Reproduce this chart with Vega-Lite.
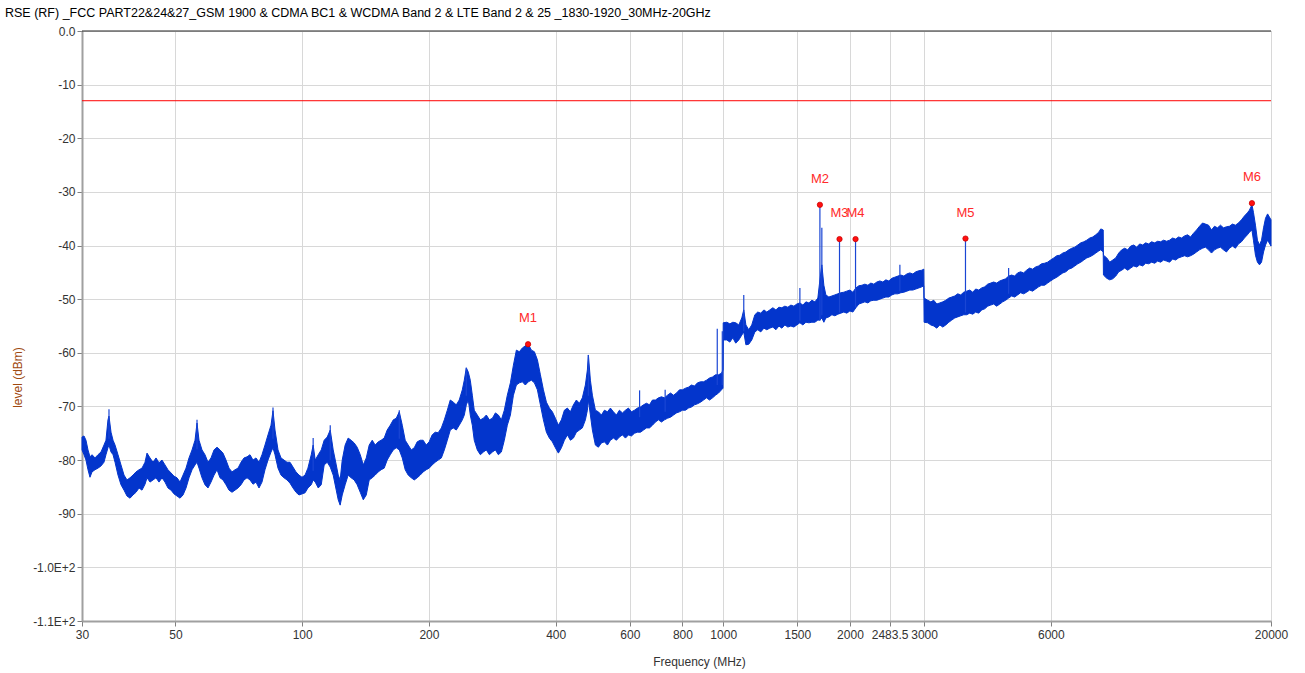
{
"$schema":"https://vega.github.io/schema/vega-lite/v6.json",
"width":1189,"height":590,
"autosize":{"type":"none"},
"padding":{"left":82,"top":31,"right":34,"bottom":52},
"background":"white",
"title":{"text":"RSE (RF)  _FCC PART22&24&27_GSM 1900 & CDMA BC1 & WCDMA Band 2 & LTE Band 2 & 25 _1830-1920_30MHz-20GHz","anchor":"start","frame":"group","dx":-77,"offset":6,"fontSize":12.5,"fontWeight":"normal","font":"Liberation Sans","color":"#000000"},
"config":{"font":"Liberation Sans","view":{"stroke":"#A0A0A0","strokeWidth":1},
"axis":{"labelFont":"Liberation Sans","labelFontSize":12,"labelColor":"#333333","domainColor":"#A0A0A0","domainWidth":2,"tickColor":"#808080","tickSize":5,"gridColor":"#D8D8D8","gridWidth":1,"titleFont":"Liberation Sans","titleFontSize":12,"titleFontWeight":"normal"}},
"datasets":{
"band":[
{"f":30,"hi":-75.7,"lo":-78.1},{"f":30.33,"hi":-75.5,"lo":-79.0},{"f":30.66,"hi":-76.3,"lo":-80.0},{"f":31.0,"hi":-78.1,"lo":-81.8},{"f":31.34,"hi":-79.4,"lo":-83.2},{"f":31.69,"hi":-79.0,"lo":-82.2},{"f":32.21,"hi":-79.6,"lo":-81.8},{"f":32.74,"hi":-79.0,"lo":-81.5},{"f":33.28,"hi":-78.5,"lo":-81.1},{"f":33.83,"hi":-77.2,"lo":-80.4},{"f":34.2,"hi":-76.3,"lo":-79.0},{"f":34.58,"hi":-72.5,"lo":-77.7},{"f":34.77,"hi":-71.8,"lo":-77.2},{"f":35.16,"hi":-74.8,"lo":-78.5},{"f":35.55,"hi":-76.3,"lo":-79.0},{"f":35.94,"hi":-77.2,"lo":-80.4},{"f":36.53,"hi":-79.0,"lo":-82.8},{"f":37.13,"hi":-80.9,"lo":-84.6},{"f":37.75,"hi":-82.8,"lo":-85.6},{"f":38.37,"hi":-83.7,"lo":-86.7},{"f":39.01,"hi":-83.3,"lo":-87.1},{"f":39.65,"hi":-82.8,"lo":-86.5},{"f":40.31,"hi":-82.2,"lo":-86.0},{"f":40.98,"hi":-81.8,"lo":-85.2},{"f":41.65,"hi":-81.5,"lo":-85.6},{"f":42.34,"hi":-80.4,"lo":-84.5},{"f":42.81,"hi":-78.7,"lo":-83.3},{"f":43.52,"hi":-79.6,"lo":-84.1},{"f":44.24,"hi":-80.4,"lo":-83.7},{"f":44.97,"hi":-79.6,"lo":-83.3},{"f":45.71,"hi":-80.5,"lo":-84.1},{"f":46.47,"hi":-80.0,"lo":-83.3},{"f":47.23,"hi":-80.9,"lo":-84.1},{"f":48.01,"hi":-81.8,"lo":-85.2},{"f":48.82,"hi":-82.4,"lo":-85.6},{"f":49.62,"hi":-83.0,"lo":-86.3},{"f":50.44,"hi":-83.3,"lo":-86.7},{"f":51.28,"hi":-84.1,"lo":-87.1},{"f":52.13,"hi":-82.8,"lo":-86.5},{"f":52.99,"hi":-81.5,"lo":-85.2},{"f":53.86,"hi":-79.6,"lo":-83.3},{"f":54.76,"hi":-78.1,"lo":-81.8},{"f":55.66,"hi":-76.3,"lo":-80.9},{"f":56.27,"hi":-73.1,"lo":-80.4},{"f":56.89,"hi":-76.3,"lo":-81.5},{"f":57.83,"hi":-78.1,"lo":-83.3},{"f":58.78,"hi":-79.0,"lo":-84.6},{"f":59.76,"hi":-80.4,"lo":-85.2},{"f":60.75,"hi":-79.6,"lo":-84.1},{"f":61.76,"hi":-78.1,"lo":-82.8},{"f":62.78,"hi":-77.6,"lo":-81.8},{"f":63.81,"hi":-78.1,"lo":-83.3},{"f":64.86,"hi":-78.7,"lo":-83.7},{"f":65.94,"hi":-80.0,"lo":-84.6},{"f":67.03,"hi":-81.5,"lo":-85.6},{"f":68.14,"hi":-82.2,"lo":-86.0},{"f":69.27,"hi":-81.8,"lo":-85.6},{"f":70.41,"hi":-81.5,"lo":-85.2},{"f":71.58,"hi":-80.4,"lo":-84.6},{"f":72.76,"hi":-79.6,"lo":-83.7},{"f":73.97,"hi":-79.4,"lo":-83.3},{"f":75.19,"hi":-79.0,"lo":-83.7},{"f":76.43,"hi":-80.0,"lo":-84.5},{"f":77.69,"hi":-79.6,"lo":-84.1},{"f":78.98,"hi":-80.4,"lo":-85.2},{"f":80.28,"hi":-79.0,"lo":-84.1},{"f":81.61,"hi":-77.2,"lo":-81.8},{"f":82.96,"hi":-75.3,"lo":-80.0},{"f":84.34,"hi":-73.5,"lo":-78.5},{"f":85.26,"hi":-70.8,"lo":-77.7},{"f":86.2,"hi":-74.4,"lo":-79.0},{"f":87.63,"hi":-78.1,"lo":-81.5},{"f":89.08,"hi":-79.6,"lo":-82.8},{"f":90.55,"hi":-80.0,"lo":-83.3},{"f":92.04,"hi":-80.4,"lo":-83.7},{"f":93.57,"hi":-80.4,"lo":-84.3},{"f":95.12,"hi":-81.3,"lo":-85.2},{"f":96.69,"hi":-82.2,"lo":-86.0},{"f":98.29,"hi":-82.8,"lo":-86.5},{"f":99.92,"hi":-83.2,"lo":-86.3},{"f":101.6,"hi":-82.8,"lo":-86.1},{"f":103.2,"hi":-81.5,"lo":-85.2},{"f":105.1,"hi":-79.0,"lo":-84.6},{"f":106.2,"hi":-77.2,"lo":-83.7},{"f":107.4,"hi":-80.0,"lo":-84.1},{"f":109.2,"hi":-79.0,"lo":-85.2},{"f":111.0,"hi":-78.1,"lo":-84.6},{"f":112.8,"hi":-76.3,"lo":-80.9},{"f":114.7,"hi":-75.7,"lo":-80.4},{"f":116.6,"hi":-74.4,"lo":-81.3},{"f":118.5,"hi":-78.1,"lo":-82.8},{"f":120.5,"hi":-80.9,"lo":-85.6},{"f":121.8,"hi":-82.8,"lo":-87.4},{"f":123.1,"hi":-83.7,"lo":-88.4},{"f":124.5,"hi":-80.0,"lo":-86.5},{"f":126.5,"hi":-77.2,"lo":-84.6},{"f":128.6,"hi":-75.9,"lo":-82.8},{"f":130.7,"hi":-76.3,"lo":-83.3},{"f":132.9,"hi":-76.8,"lo":-83.7},{"f":135.1,"hi":-77.6,"lo":-84.6},{"f":137.4,"hi":-79.0,"lo":-86.0},{"f":139.7,"hi":-80.9,"lo":-87.4},{"f":142.0,"hi":-79.6,"lo":-86.5},{"f":144.3,"hi":-77.2,"lo":-83.7},{"f":146.7,"hi":-76.3,"lo":-83.3},{"f":149.1,"hi":-77.2,"lo":-82.8},{"f":151.6,"hi":-76.6,"lo":-82.2},{"f":154.0,"hi":-76.3,"lo":-81.8},{"f":156.6,"hi":-75.9,"lo":-81.5},{"f":159.2,"hi":-74.4,"lo":-80.0},{"f":161.9,"hi":-73.5,"lo":-79.0},{"f":164.6,"hi":-72.5,"lo":-78.1},{"f":167.3,"hi":-72.2,"lo":-77.7},{"f":170.1,"hi":-71.0,"lo":-78.1},{"f":172.9,"hi":-73.5,"lo":-79.6},{"f":175.7,"hi":-76.3,"lo":-81.8},{"f":178.6,"hi":-77.2,"lo":-82.8},{"f":181.6,"hi":-78.1,"lo":-83.3},{"f":184.6,"hi":-77.7,"lo":-83.7},{"f":187.6,"hi":-76.6,"lo":-83.3},{"f":190.7,"hi":-76.3,"lo":-82.8},{"f":193.8,"hi":-76.3,"lo":-82.2},{"f":197.1,"hi":-77.2,"lo":-81.8},{"f":200.3,"hi":-76.6,"lo":-81.5},{"f":203.6,"hi":-75.3,"lo":-80.9},{"f":207.0,"hi":-74.8,"lo":-80.4},{"f":210.4,"hi":-74.9,"lo":-80.0},{"f":214.1,"hi":-74.0,"lo":-79.6},{"f":217.6,"hi":-72.5,"lo":-78.1},{"f":221.2,"hi":-70.7,"lo":-76.3},{"f":224.8,"hi":-68.8,"lo":-74.4},{"f":228.5,"hi":-69.2,"lo":-74.0},{"f":232.3,"hi":-69.7,"lo":-74.4},{"f":236.1,"hi":-68.8,"lo":-73.5},{"f":240.1,"hi":-66.9,"lo":-72.5},{"f":242.7,"hi":-65.1,"lo":-71.6},{"f":245.4,"hi":-62.8,"lo":-69.7},{"f":248.1,"hi":-63.6,"lo":-68.8},{"f":250.8,"hi":-65.1,"lo":-71.6},{"f":253.6,"hi":-67.9,"lo":-73.5},{"f":256.3,"hi":-70.7,"lo":-76.3},{"f":260.6,"hi":-71.6,"lo":-78.1},{"f":265.0,"hi":-72.5,"lo":-79.0},{"f":269.4,"hi":-72.2,"lo":-78.5},{"f":273.8,"hi":-71.6,"lo":-78.1},{"f":278.4,"hi":-72.5,"lo":-79.0},{"f":283.0,"hi":-72.2,"lo":-78.5},{"f":287.7,"hi":-71.2,"lo":-78.1},{"f":292.4,"hi":-71.6,"lo":-79.0},{"f":297.2,"hi":-72.5,"lo":-78.5},{"f":302.1,"hi":-70.7,"lo":-76.3},{"f":307.1,"hi":-67.9,"lo":-73.5},{"f":312.3,"hi":-65.6,"lo":-71.6},{"f":317.5,"hi":-62.3,"lo":-67.9},{"f":322.7,"hi":-59.5,"lo":-66.0},{"f":328.0,"hi":-59.8,"lo":-65.6},{"f":333.4,"hi":-59.1,"lo":-65.4},{"f":338.9,"hi":-58.7,"lo":-66.0},{"f":344.5,"hi":-58.4,"lo":-65.4},{"f":350.3,"hi":-59.5,"lo":-65.1},{"f":356.1,"hi":-59.8,"lo":-65.6},{"f":362.0,"hi":-61.3,"lo":-66.9},{"f":368.0,"hi":-64.1,"lo":-69.7},{"f":374.1,"hi":-66.9,"lo":-72.5},{"f":380.3,"hi":-69.2,"lo":-74.8},{"f":386.5,"hi":-70.3,"lo":-75.9},{"f":392.9,"hi":-71.0,"lo":-76.6},{"f":399.4,"hi":-72.2,"lo":-77.7},{"f":406.0,"hi":-73.5,"lo":-78.7},{"f":412.8,"hi":-72.5,"lo":-77.7},{"f":419.6,"hi":-70.7,"lo":-76.3},{"f":426.5,"hi":-70.3,"lo":-75.3},{"f":433.6,"hi":-71.0,"lo":-76.3},{"f":440.8,"hi":-69.7,"lo":-75.9},{"f":448.0,"hi":-68.8,"lo":-74.8},{"f":455.5,"hi":-69.4,"lo":-74.4},{"f":462.9,"hi":-68.4,"lo":-74.0},{"f":470.6,"hi":-66.0,"lo":-72.5},{"f":475.8,"hi":-63.2,"lo":-70.7},{"f":478.4,"hi":-60.4,"lo":-68.8},{"f":483.7,"hi":-65.1,"lo":-71.6},{"f":489.0,"hi":-67.9,"lo":-74.4},{"f":497.1,"hi":-70.7,"lo":-77.2},{"f":505.3,"hi":-71.0,"lo":-77.6},{"f":513.8,"hi":-71.6,"lo":-76.8},{"f":522.3,"hi":-70.7,"lo":-76.6},{"f":530.9,"hi":-71.0,"lo":-77.2},{"f":539.7,"hi":-70.3,"lo":-76.3},{"f":548.6,"hi":-71.0,"lo":-75.9},{"f":557.7,"hi":-71.6,"lo":-76.3},{"f":566.9,"hi":-70.7,"lo":-75.7},{"f":576.4,"hi":-71.2,"lo":-75.3},{"f":585.9,"hi":-70.7,"lo":-75.9},{"f":595.6,"hi":-70.3,"lo":-75.3},{"f":605.5,"hi":-71.0,"lo":-75.5},{"f":615.5,"hi":-70.7,"lo":-75.0},{"f":625.7,"hi":-70.3,"lo":-74.8},{"f":636.1,"hi":-70.1,"lo":-74.8},{"f":646.6,"hi":-69.7,"lo":-74.4},{"f":657.3,"hi":-69.4,"lo":-74.0},{"f":668.2,"hi":-69.7,"lo":-74.0},{"f":679.2,"hi":-68.8,"lo":-73.5},{"f":690.4,"hi":-68.8,"lo":-72.9},{"f":701.8,"hi":-68.4,"lo":-72.5},{"f":713.5,"hi":-68.2,"lo":-72.9},{"f":725.3,"hi":-68.4,"lo":-72.5},{"f":737.3,"hi":-67.9,"lo":-72.2},{"f":749.6,"hi":-67.5,"lo":-72.0},{"f":762.0,"hi":-67.9,"lo":-71.6},{"f":774.6,"hi":-67.5,"lo":-71.2},{"f":787.4,"hi":-66.9,"lo":-71.0},{"f":800.3,"hi":-66.9,"lo":-70.7},{"f":813.5,"hi":-66.6,"lo":-70.7},{"f":827.0,"hi":-66.4,"lo":-70.3},{"f":840.8,"hi":-66.0,"lo":-70.1},{"f":854.7,"hi":-66.2,"lo":-69.7},{"f":868.8,"hi":-65.6,"lo":-69.5},{"f":883.3,"hi":-65.4,"lo":-69.2},{"f":897.9,"hi":-65.4,"lo":-68.8},{"f":912.7,"hi":-65.1,"lo":-68.4},{"f":927.8,"hi":-64.7,"lo":-68.8},{"f":943.4,"hi":-64.5,"lo":-68.4},{"f":958.9,"hi":-64.1,"lo":-67.9},{"f":974.8,"hi":-64.1,"lo":-67.5},{"f":990.8,"hi":-63.8,"lo":-66.9},{"f":999,"hi":-63.2,"lo":-66.6},
{"f":1000,"hi":-54.4,"lo":-57.6},{"f":1020,"hi":-54.3,"lo":-57.6},{"f":1037,"hi":-54.6,"lo":-58.0},{"f":1054,"hi":-54.3,"lo":-57.2},{"f":1071,"hi":-54.4,"lo":-58.2},{"f":1089,"hi":-54.8,"lo":-57.6},{"f":1107,"hi":-53.5,"lo":-56.7},{"f":1119,"hi":-52.0,"lo":-56.1},{"f":1132,"hi":-54.8,"lo":-58.5},{"f":1150,"hi":-55.7,"lo":-58.4},{"f":1169,"hi":-54.8,"lo":-57.6},{"f":1189,"hi":-52.9,"lo":-56.1},{"f":1208,"hi":-52.4,"lo":-55.7},{"f":1228,"hi":-52.6,"lo":-56.1},{"f":1249,"hi":-52.0,"lo":-55.4},{"f":1269,"hi":-52.4,"lo":-55.7},{"f":1290,"hi":-52.0,"lo":-55.4},{"f":1312,"hi":-51.6,"lo":-55.2},{"f":1334,"hi":-52.0,"lo":-55.7},{"f":1356,"hi":-51.5,"lo":-55.0},{"f":1378,"hi":-51.6,"lo":-55.4},{"f":1401,"hi":-51.3,"lo":-54.8},{"f":1424,"hi":-51.5,"lo":-55.2},{"f":1448,"hi":-51.1,"lo":-55.0},{"f":1472,"hi":-51.3,"lo":-55.2},{"f":1496,"hi":-50.9,"lo":-54.8},{"f":1521,"hi":-50.7,"lo":-54.4},{"f":1546,"hi":-51.1,"lo":-54.8},{"f":1572,"hi":-50.5,"lo":-54.3},{"f":1598,"hi":-50.7,"lo":-54.4},{"f":1624,"hi":-50.2,"lo":-54.3},{"f":1651,"hi":-50.5,"lo":-54.3},{"f":1678,"hi":-49.8,"lo":-53.9},{"f":1697,"hi":-46.4,"lo":-53.9},{"f":1715,"hi":-43.6,"lo":-53.5},{"f":1734,"hi":-47.4,"lo":-54.3},{"f":1753,"hi":-49.2,"lo":-53.5},{"f":1782,"hi":-49.6,"lo":-53.3},{"f":1812,"hi":-49.4,"lo":-52.9},{"f":1842,"hi":-49.2,"lo":-53.1},{"f":1872,"hi":-49.0,"lo":-52.8},{"f":1903,"hi":-48.8,"lo":-52.6},{"f":1934,"hi":-48.7,"lo":-52.4},{"f":1966,"hi":-48.5,"lo":-52.6},{"f":1999,"hi":-48.3,"lo":-52.2},{"f":2032,"hi":-48.7,"lo":-52.4},{"f":2066,"hi":-47.9,"lo":-51.6},{"f":2100,"hi":-47.5,"lo":-50.9},{"f":2135,"hi":-47.4,"lo":-50.7},{"f":2170,"hi":-47.2,"lo":-50.5},{"f":2206,"hi":-47.4,"lo":-50.7},{"f":2242,"hi":-47.0,"lo":-50.3},{"f":2279,"hi":-47.2,"lo":-50.2},{"f":2317,"hi":-46.8,"lo":-50.2},{"f":2355,"hi":-46.6,"lo":-50.0},{"f":2394,"hi":-46.8,"lo":-49.8},{"f":2434,"hi":-46.4,"lo":-49.6},{"f":2474,"hi":-46.6,"lo":-49.6},{"f":2515,"hi":-46.1,"lo":-49.2},{"f":2557,"hi":-45.9,"lo":-49.0},{"f":2599,"hi":-45.7,"lo":-49.0},{"f":2642,"hi":-45.5,"lo":-48.8},{"f":2686,"hi":-45.7,"lo":-48.7},{"f":2730,"hi":-45.3,"lo":-48.5},{"f":2775,"hi":-45.1,"lo":-48.3},{"f":2821,"hi":-45.3,"lo":-48.3},{"f":2868,"hi":-44.9,"lo":-48.1},{"f":2915,"hi":-44.7,"lo":-47.9},{"f":2963,"hi":-44.6,"lo":-47.7},{"f":2995,"hi":-44.4,"lo":-47.5},
{"f":3000,"hi":-49.8,"lo":-54.3},{"f":3061,"hi":-50.2,"lo":-54.4},{"f":3112,"hi":-50.5,"lo":-54.8},{"f":3163,"hi":-50.2,"lo":-55.0},{"f":3216,"hi":-50.9,"lo":-55.4},{"f":3269,"hi":-50.7,"lo":-54.8},{"f":3323,"hi":-50.5,"lo":-55.2},{"f":3378,"hi":-50.2,"lo":-54.8},{"f":3434,"hi":-49.8,"lo":-54.3},{"f":3490,"hi":-49.6,"lo":-53.9},{"f":3548,"hi":-49.4,"lo":-53.5},{"f":3606,"hi":-49.0,"lo":-53.3},{"f":3666,"hi":-49.2,"lo":-53.1},{"f":3726,"hi":-48.7,"lo":-52.9},{"f":3788,"hi":-48.5,"lo":-52.9},{"f":3850,"hi":-48.3,"lo":-52.6},{"f":3914,"hi":-48.7,"lo":-52.8},{"f":3978,"hi":-48.1,"lo":-52.4},{"f":4044,"hi":-48.3,"lo":-52.6},{"f":4111,"hi":-47.9,"lo":-52.0},{"f":4179,"hi":-47.7,"lo":-51.8},{"f":4248,"hi":-47.2,"lo":-51.3},{"f":4318,"hi":-47.0,"lo":-51.1},{"f":4389,"hi":-46.8,"lo":-50.9},{"f":4461,"hi":-47.0,"lo":-51.3},{"f":4540,"hi":-46.6,"lo":-50.9},{"f":4610,"hi":-46.4,"lo":-50.5},{"f":4686,"hi":-46.2,"lo":-50.2},{"f":4763,"hi":-45.7,"lo":-49.8},{"f":4842,"hi":-45.5,"lo":-49.4},{"f":4922,"hi":-45.7,"lo":-49.6},{"f":5003,"hi":-45.1,"lo":-49.2},{"f":5086,"hi":-44.9,"lo":-48.8},{"f":5170,"hi":-45.1,"lo":-49.0},{"f":5255,"hi":-44.6,"lo":-48.7},{"f":5342,"hi":-44.2,"lo":-48.3},{"f":5430,"hi":-44.4,"lo":-48.5},{"f":5520,"hi":-44.0,"lo":-48.1},{"f":5611,"hi":-43.8,"lo":-47.7},{"f":5704,"hi":-43.4,"lo":-47.4},{"f":5798,"hi":-43.3,"lo":-47.4},{"f":5894,"hi":-43.1,"lo":-47.0},{"f":5991,"hi":-42.7,"lo":-46.6},{"f":6099,"hi":-42.3,"lo":-46.2},{"f":6200,"hi":-41.9,"lo":-45.9},{"f":6302,"hi":-41.8,"lo":-45.5},{"f":6406,"hi":-41.4,"lo":-45.1},{"f":6512,"hi":-41.2,"lo":-44.9},{"f":6619,"hi":-40.8,"lo":-44.4},{"f":6729,"hi":-40.5,"lo":-44.2},{"f":6840,"hi":-40.3,"lo":-43.8},{"f":6953,"hi":-39.9,"lo":-43.4},{"f":7068,"hi":-39.5,"lo":-43.1},{"f":7184,"hi":-39.3,"lo":-42.7},{"f":7303,"hi":-39.0,"lo":-42.3},{"f":7424,"hi":-38.6,"lo":-42.1},{"f":7546,"hi":-38.4,"lo":-41.8},{"f":7671,"hi":-38.0,"lo":-41.4},{"f":7798,"hi":-37.5,"lo":-41.0},{"f":7884,"hi":-36.9,"lo":-40.8},{"f":7990,"hi":-37.1,"lo":-41.2},
{"f":8000,"hi":-41.8,"lo":-45.5},{"f":8146,"hi":-42.3,"lo":-46.1},{"f":8280,"hi":-43.1,"lo":-46.4},{"f":8417,"hi":-42.7,"lo":-46.2},{"f":8556,"hi":-42.3,"lo":-45.7},{"f":8697,"hi":-41.4,"lo":-44.9},{"f":8841,"hi":-40.8,"lo":-44.6},{"f":8986,"hi":-40.5,"lo":-44.2},{"f":9135,"hi":-40.8,"lo":-44.6},{"f":9286,"hi":-40.1,"lo":-44.2},{"f":9439,"hi":-39.9,"lo":-43.8},{"f":9595,"hi":-40.3,"lo":-44.0},{"f":9753,"hi":-39.7,"lo":-43.6},{"f":9914,"hi":-39.9,"lo":-43.8},{"f":10078,"hi":-39.5,"lo":-43.3},{"f":10244,"hi":-39.7,"lo":-43.4},{"f":10413,"hi":-39.3,"lo":-43.1},{"f":10585,"hi":-39.5,"lo":-43.3},{"f":10760,"hi":-39.2,"lo":-42.9},{"f":10937,"hi":-39.3,"lo":-43.1},{"f":11118,"hi":-39.0,"lo":-42.7},{"f":11301,"hi":-39.2,"lo":-42.9},{"f":11488,"hi":-39.0,"lo":-43.1},{"f":11677,"hi":-38.6,"lo":-42.5},{"f":11870,"hi":-38.8,"lo":-42.7},{"f":12066,"hi":-38.4,"lo":-42.3},{"f":12265,"hi":-38.6,"lo":-42.1},{"f":12467,"hi":-38.2,"lo":-41.9},{"f":12673,"hi":-38.0,"lo":-42.1},{"f":12882,"hi":-38.4,"lo":-41.9},{"f":13094,"hi":-37.7,"lo":-41.6},{"f":13310,"hi":-37.1,"lo":-41.2},{"f":13530,"hi":-36.4,"lo":-40.8},{"f":13753,"hi":-35.8,"lo":-40.5},{"f":13980,"hi":-36.0,"lo":-40.3},{"f":14211,"hi":-36.2,"lo":-40.8},{"f":14445,"hi":-37.1,"lo":-41.4},{"f":14683,"hi":-36.4,"lo":-40.8},{"f":14926,"hi":-36.7,"lo":-40.5},{"f":15172,"hi":-36.2,"lo":-40.3},{"f":15422,"hi":-36.7,"lo":-40.8},{"f":15677,"hi":-36.5,"lo":-41.2},{"f":15935,"hi":-36.4,"lo":-40.5},{"f":16198,"hi":-36.0,"lo":-40.1},{"f":16465,"hi":-36.2,"lo":-40.5},{"f":16737,"hi":-35.8,"lo":-39.7},{"f":17013,"hi":-35.2,"lo":-39.3},{"f":17294,"hi":-34.5,"lo":-38.6},{"f":17579,"hi":-33.9,"lo":-38.0},{"f":17773,"hi":-33.4,"lo":-37.5},{"f":18020,"hi":-32.4,"lo":-37.1},{"f":18170,"hi":-33.8,"lo":-39.0},{"f":18370,"hi":-36.2,"lo":-41.8},{"f":18570,"hi":-39.0,"lo":-43.1},{"f":18780,"hi":-39.9,"lo":-43.6},{"f":18990,"hi":-39.0,"lo":-43.1},{"f":19200,"hi":-36.7,"lo":-41.2},{"f":19410,"hi":-34.9,"lo":-39.9},{"f":19630,"hi":-34.1,"lo":-39.0},{"f":20000,"hi":-35.2,"lo":-40.1}
],
"spikes":[
{"f":34.77,"hi":-70.5,"lo":-76},{"f":56.27,"hi":-72.5,"lo":-78},{"f":85.26,"hi":-70.2,"lo":-76},{"f":106.2,"hi":-75.9,"lo":-82},{"f":116.6,"hi":-73.5,"lo":-80},{"f":170.1,"hi":-70.7,"lo":-76},{"f":245.4,"hi":-62.8,"lo":-68},{"f":478.4,"hi":-60.4,"lo":-68},{"f":633,"hi":-67,"lo":-72},{"f":728,"hi":-66.9,"lo":-71},{"f":968,"hi":-55.5,"lo":-66},{"f":995,"hi":-56,"lo":-66},{"f":1119,"hi":-49.2,"lo":-56},{"f":1521,"hi":-47.9,"lo":-54},{"f":1697,"hi":-32.4,"lo":-54},{"f":1715,"hi":-36.7,"lo":-53},{"f":1889,"hi":-38.8,"lo":-52.5},{"f":2062,"hi":-38.8,"lo":-51.5},{"f":2628,"hi":-43.6,"lo":-48.5},{"f":3762,"hi":-38.7,"lo":-52.5},{"f":4763,"hi":-44.2,"lo":-49}
],
"markers":[
{"f":344,"v":-58.4,"name":"M1"},{"f":1697,"v":-32.4,"name":"M2"},{"f":1889,"v":-38.8,"name":"M3"},{"f":2062,"v":-38.8,"name":"M4"},{"f":3762,"v":-38.7,"name":"M5"},{"f":18020,"v":-32.1,"name":"M6"}
]
},
"encoding":{
"x":{"field":"f","type":"quantitative","scale":{"type":"log","domain":[30,20000],"nice":false,"zero":false},
"axis":{"title":"Frequency (MHz)","values":[30,50,100,200,400,600,800,1000,1500,2000,2483.5,3000,6000,20000],"labelExpr":"'' + datum.value","grid":true,"labelPadding":3,"labelFlush":false,"titleX":617,"titleY":40,"titleBaseline":"middle","titleColor":"#333333"}},
"y":{"type":"quantitative","scale":{"domain":[-110,0],"nice":false,"zero":false},
"axis":{"title":"level (dBm)","values":[0,-10,-20,-30,-40,-50,-60,-70,-80,-90,-100,-110],"labelExpr":"datum.value == 0 ? '0.0' : datum.value == -100 ? '-1.0E+2' : datum.value == -110 ? '-1.1E+2' : '' + datum.value","grid":true,"labelPadding":2,"titleX":-65,"titleY":346,"titleBaseline":"middle","titleAlign":"center","titleColor":"#A04A10"}}
},
"layer":[
{"data":{"name":"band"},"mark":{"type":"area","color":"#0335CC","stroke":"#0335CC","strokeWidth":1,"opacity":1},"encoding":{"y":{"field":"hi","type":"quantitative"},"y2":{"field":"lo"}}},
{"data":{"name":"spikes"},"mark":{"type":"rule","color":"#1A46D4","strokeWidth":1.2},"encoding":{"y":{"field":"hi","type":"quantitative"},"y2":{"field":"lo"}}},
{"data":{"values":[{"lim":-13}]},"mark":{"type":"rule","color":"#FF0000","strokeWidth":1},"encoding":{"x":null,"y":{"field":"lim","type":"quantitative"}}},
{"data":{"values":[{"top":0}]},"mark":{"type":"rule","color":"#222222","strokeWidth":1},"encoding":{"x":null,"y":{"field":"top","type":"quantitative"}}},
{"data":{"name":"markers"},"mark":{"type":"point","shape":"circle","filled":true,"color":"#FF1010","size":28,"stroke":"#CC0000","strokeWidth":0.8,"opacity":1},"encoding":{"y":{"field":"v","type":"quantitative"}}},
{"data":{"name":"markers"},"mark":{"type":"text","color":"#FF2A2A","fontSize":13,"dy":-26,"align":"center","baseline":"middle","font":"Liberation Sans"},"encoding":{"y":{"field":"v","type":"quantitative"},"text":{"field":"name"}}}
]
}
